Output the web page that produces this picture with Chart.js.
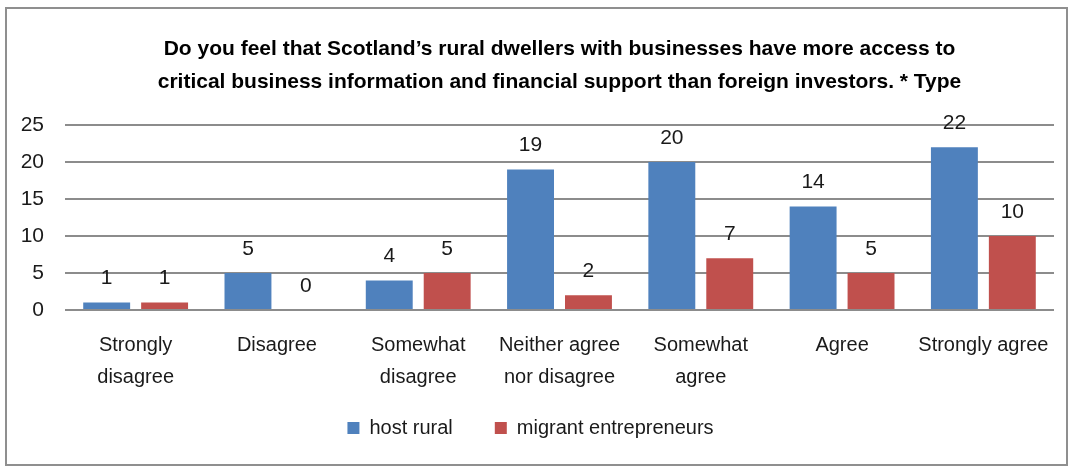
<!DOCTYPE html>
<html lang="en">
<head>
    <meta charset="UTF-8">
    <title>Access to business information and financial support</title>
    <script src="https://cdn.jsdelivr.net/npm/chart.js"></script>
    <style>
        body { margin: 0; background: #fff; }
        .frame {
            position: absolute;
            left: 5px;
            top: 7px;
            width: 1059px;
            height: 455px;
            border: 2px solid #8f8f8f;
        }
    </style>
</head>
<body>
    <div class="frame">
        <canvas id="typeChart" width="1059" height="455"></canvas>
    </div>

    <script>
const titleLines = [
    'Do you feel that Scotland\u2019s rural dwellers with businesses have more access to',
    'critical business information and financial support than foreign investors. * Type'
];
const categories = [
    ['Strongly', 'disagree'],
    'Disagree',
    ['Somewhat', 'disagree'],
    ['Neither agree', 'nor disagree'],
    ['Somewhat', 'agree'],
    'Agree',
    'Strongly agree'
];
const hostRural = [1, 5, 4, 19, 20, 14, 22];
const migrantEntrepreneurs = [1, 0, 5, 2, 7, 5, 10];
const yTicks = [0, 5, 10, 15, 20, 25];

const fontFamily = '"Liberation Sans", Arial, sans-serif';

// writes each bar's value just above it
const valueLabels = {
    id: 'valueLabels',
    afterDatasetsDraw(chart) {
        const ctx = chart.ctx;
        ctx.save();
        ctx.font = '21px ' + fontFamily;
        ctx.fillStyle = '#1a1a1a';
        ctx.textAlign = 'center';
        ctx.textBaseline = 'middle';
        chart.data.datasets.forEach((ds, i) => {
            chart.getDatasetMeta(i).data.forEach((bar, j) => {
                ctx.fillText(String(ds.data[j]), bar.x, bar.y - 24);
            });
        });
        ctx.restore();
    }
};

// the x axis box is kept short so the legend sits close;
// widen its clip box so the second line of the labels still shows
const labelRoom = {
    id: 'labelRoom',
    afterLayout(chart) {
        const x = chart.scales.x;
        x.bottom = x.top + 100;
    }
};

new Chart(document.getElementById('typeChart'), {
    type: 'bar',
    data: {
        labels: categories,
        datasets: [{
            label: 'host rural',
            data: hostRural,
            backgroundColor: '#4F81BD'
        }, {
            label: 'migrant entrepreneurs',
            data: migrantEntrepreneurs,
            backgroundColor: '#C0504D'
        }]
    },
    options: {
        responsive: false,
        animation: false,
        barPercentage: 0.81,
        categoryPercentage: 0.82,
        layout: { autoPadding: false, padding: { left: 0, right: 12, top: 0, bottom: 16 } },
        plugins: {
            title: {
                display: true,
                fullSize: false,
                text: titleLines,
                color: '#000',
                font: { family: fontFamily, size: 21, weight: 'bold', lineHeight: '33px' },
                padding: { top: 24, bottom: 26 }
            },
            legend: {
                position: 'bottom',
                labels: {
                    color: '#1a1a1a',
                    font: { family: fontFamily, size: 20 },
                    boxWidth: 12,
                    boxHeight: 12,
                    padding: 42
                }
            },
            tooltip: { enabled: false }
        },
        scales: {
            x: {
                grid: { display: false, drawTicks: false },
                border: { display: false },
                ticks: {
                    color: '#1a1a1a',
                    font: { family: fontFamily, size: 20, lineHeight: '32px' },
                    padding: 19,
                    maxRotation: 0,
                    autoSkip: false
                },
                afterFit(scale) {
                    scale.height = 66;
                    // labels fit inside their categories, no side room needed
                    scale.paddingLeft = 0;
                    scale.paddingRight = 0;
                }
            },
            y: {
                min: 0,
                max: 25,
                afterBuildTicks(scale) { scale.ticks = yTicks.map(v => ({ value: v })); },
                grid: { color: '#8c8c8c', lineWidth: 2, drawTicks: false },
                border: { display: false },
                ticks: {
                    color: '#1a1a1a',
                    font: { family: fontFamily, size: 21 },
                    padding: 21
                },
                afterFit(scale) { scale.width = 58; }
            }
        }
    },
    plugins: [valueLabels, labelRoom]
});
    </script>
</body>
</html>
